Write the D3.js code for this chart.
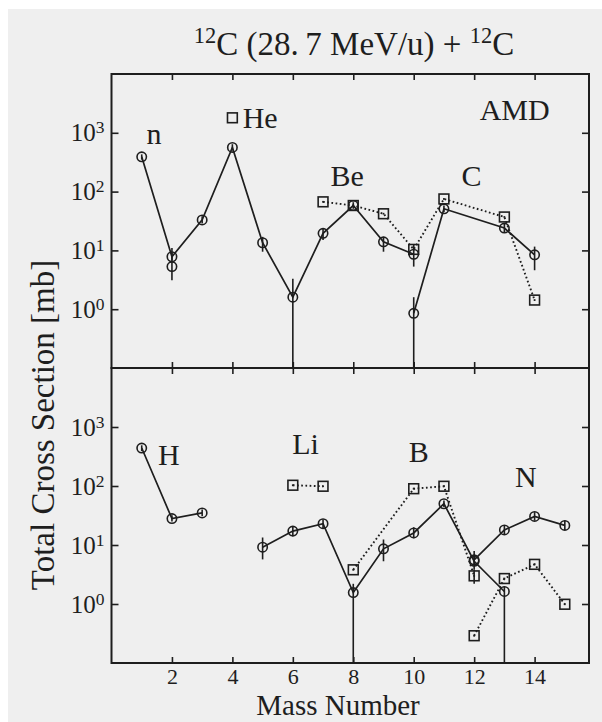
<!DOCTYPE html>
<html>
<head>
<meta charset="utf-8">
<script src="https://cdn.jsdelivr.net/npm/d3@7"></script>
<style>
body{margin:0;background:#fff;}
text{font-family:"Liberation Serif","Times New Roman",serif;fill:#1e1e1e;}
</style>
</head>
<body>
<svg id="chart" width="602" height="722"></svg>
<script>
// rows: [mass, value (mb), errLow, errHigh]
var topCircA=[[1,390,350,430],[2,7.8,6.8,9],[3,33,29,38],[4,565,500,640],[5,13.5,9.5,17],[6,1.6,0.01,3.3],[7,19.5,15,24],[8,58,51,66],[9,14,9.5,17],[10,8.6,5.3,12.4]]
var topCircB=[[10,0.85,0.01,1.6],[11,51,45,58],[13,24,20,29],[14,8.4,4.6,11.6]]
var topCircX=[[2,5.3,3.1,11]]
var topSqHe=[[4,1800]]
var topSq=[[7,67],[8,58],[9,42],[10,10.4],[11,75],[13,37],[14,1.43]]

var botCircH=[[1,440,390,490],[2,28,25,32],[3,35,31,40]]
var botCircB=[[5,9.2,5.7,13.4],[6,17.2,14,21],[7,23,19,27],[8,1.56,0.01,2.2],[9,8.6,5.3,12.4],[10,16,13,20],[11,50,44,57],[12,5.3,3.9,7.9],[13,1.63,0.01,2]]
var botCircN=[[12,5.6,4.8,6.5],[13,18,15,21],[14,30.5,26,36],[15,21.5,18,26]]
var botSqLi=[[6,103],[7,99]]
var botSqB=[[8,3.8],[10,90],[11,99],[12,3.0,2.2,3.9]]
var botSqN=[[12,0.29],[13,2.7],[14,4.7],[15,0.99]]

// labels: [text, mass, value]
var topLabels=[["n",1.41,645],["He",4.92,1195],["Be",7.8,124],["C",11.91,124],["AMD",13.34,1650]]
var botLabels=[["H",1.9,230],["Li",6.42,352],["B",10.17,251],["N",13.71,97]]

var massTicks=[2,4,6,8,10,12,14]
var decTicks=[1,10,100,1000]

var svg=d3.select('#chart')
var ink='#1e1e1e'
svg.append('rect').attr('x',8).attr('y',9).attr('width',594).attr('height',713).attr('fill','#efefef')

var x=d3.scaleLinear().domain([0,15.8]).range([111.5,589])
var yTop=d3.scaleLog().domain([0.1,1e4]).range([368,74]).clamp(true)
var yBot=d3.scaleLog().domain([0.1,1e4]).range([663,368]).clamp(true)

var fsBig=33, fsLab=30, fsTick=25

function panel(y,top){
    var g=svg.append('g')
    var r=y.range()
    // y ticks both sides
    g.append('g').attr('transform','translate('+x.range()[0]+',0)')
        .call(d3.axisLeft(y).tickValues(decTicks).tickSize(-7).tickSizeOuter(0).tickPadding(7)
            .tickFormat(function(d){return ''}))
        .call(function(a){
            a.select('.domain').remove()
            a.selectAll('text').attr('font-size',fsTick).attr('font-family','Liberation Serif')
                .each(function(d){
                    var t=d3.select(this)
                    t.append('tspan').text('10')
                    t.append('tspan').attr('dy','-0.45em').attr('font-size','0.7em').text(Math.round(Math.log10(d)))
                })
        })
    g.append('g').attr('transform','translate('+x.range()[1]+',0)')
        .call(d3.axisRight(y).tickValues(decTicks).tickSize(-7).tickSizeOuter(0).tickFormat(''))
        .call(function(a){a.select('.domain').remove()})
    // x ticks top and bottom of panel
    g.append('g').attr('transform','translate(0,'+r[1]+')')
        .call(d3.axisTop(x).tickValues(massTicks).tickSize(-6).tickSizeOuter(0).tickFormat(''))
        .call(function(a){a.select('.domain').remove()})
    var xb=d3.axisBottom(x).tickValues(massTicks).tickSize(-6).tickSizeOuter(0).tickPadding(5)
    if(top) xb.tickFormat('')
    g.append('g').attr('class','xb').attr('transform','translate(0,'+r[0]+')')
        .call(xb)
        .call(function(a){
            a.select('.domain').remove()
            a.selectAll('text').attr('font-size',22).attr('font-family','Liberation Serif').attr('fill',ink)
        })
    g.selectAll('.tick line').attr('stroke',ink).attr('stroke-width',1.6)
    g.append('rect').attr('x',x.range()[0]).attr('y',r[1])
        .attr('width',x.range()[1]-x.range()[0]).attr('height',r[0]-r[1])
        .attr('fill','none').attr('stroke',ink).attr('stroke-width',2)
    return g
}

var line=function(y){return d3.line().x(function(d){return x(d[0])}).y(function(d){return y(d[1])})}

function series(g,y,data,shape,connect,dotted,centerDot){
    if(connect){
        g.append('path').datum(data).attr('d',line(y)).attr('fill','none')
            .attr('stroke',ink).attr('stroke-width',dotted?1.9:1.7)
            .attr('stroke-dasharray',dotted?'1.7,2.5':null)
    }
    // error bars
    g.selectAll(null).data(data.filter(function(d){return d.length>2})).enter().append('line')
        .attr('x1',function(d){return x(d[0])}).attr('x2',function(d){return x(d[0])})
        .attr('y1',function(d){return y(d[2])}).attr('y2',function(d){return y(d[3])})
        .attr('stroke',ink).attr('stroke-width',1.6)
    if(shape=='circle'){
        g.selectAll(null).data(data).enter().append('circle')
            .attr('cx',function(d){return x(d[0])}).attr('cy',function(d){return y(d[1])})
            .attr('r',4.7).attr('fill','none').attr('stroke',ink).attr('stroke-width',1.6)
    }else{
        g.selectAll(null).data(data).enter().append('rect')
            .attr('x',function(d){return x(d[0])-4.9}).attr('y',function(d){return y(d[1])-4.9})
            .attr('width',9.8).attr('height',9.8).attr('fill','none').attr('stroke',ink).attr('stroke-width',1.6)
        if(centerDot){
            g.selectAll(null).data(data).enter().append('rect')
                .attr('x',function(d){return x(d[0])-0.9}).attr('y',function(d){return y(d[1])-0.9})
                .attr('width',1.8).attr('height',1.8).attr('fill',ink)
        }
    }
}

function labels(g,y,data){
    g.selectAll(null).data(data).enter().append('text')
        .attr('x',function(d){return x(d[1])}).attr('y',function(d){return y(d[2])})
        .attr('text-anchor','middle').attr('font-size',fsLab).text(function(d){return d[0]})
}

var gt=panel(yTop,true)
series(gt,yTop,topCircA,'circle',true,false)
series(gt,yTop,topCircB,'circle',true,false)
series(gt,yTop,topCircX,'circle',false,false)
series(gt,yTop,topSq,'square',true,true,true)
series(gt,yTop,topSqHe,'square',false,false,false)
labels(gt,yTop,topLabels)

var gb=panel(yBot,false)
series(gb,yBot,botCircH,'circle',true,false)
series(gb,yBot,botCircB,'circle',true,false)
series(gb,yBot,botCircN,'circle',true,false)
series(gb,yBot,botSqLi,'square',true,true,true)
series(gb,yBot,botSqB,'square',true,true,true)
series(gb,yBot,botSqN,'square',true,true,true)
labels(gb,yBot,botLabels)

// title
var title=svg.append('text').attr('x',354).attr('y',55).attr('text-anchor','middle').attr('font-size',fsBig)
title.append('tspan').attr('font-size','0.68em').attr('dy','-0.55em').text('12')
title.append('tspan').attr('dy','0.375em').text('C (28.')
title.append('tspan').attr('dx','0.2em').text('7 MeV/u) + ')
title.append('tspan').attr('font-size','0.68em').attr('dy','-0.55em').text('12')
title.append('tspan').attr('dy','0.375em').text('C')

// axis titles
svg.append('text').attr('text-anchor','middle').attr('font-size',fsBig)
    .attr('transform','translate(54,425) rotate(-90)').text('Total Cross Section [mb]')
svg.append('text').attr('text-anchor','middle').attr('font-size',29)
    .attr('x',338).attr('y',715).text('Mass Number')
</script>
</body>
</html>
